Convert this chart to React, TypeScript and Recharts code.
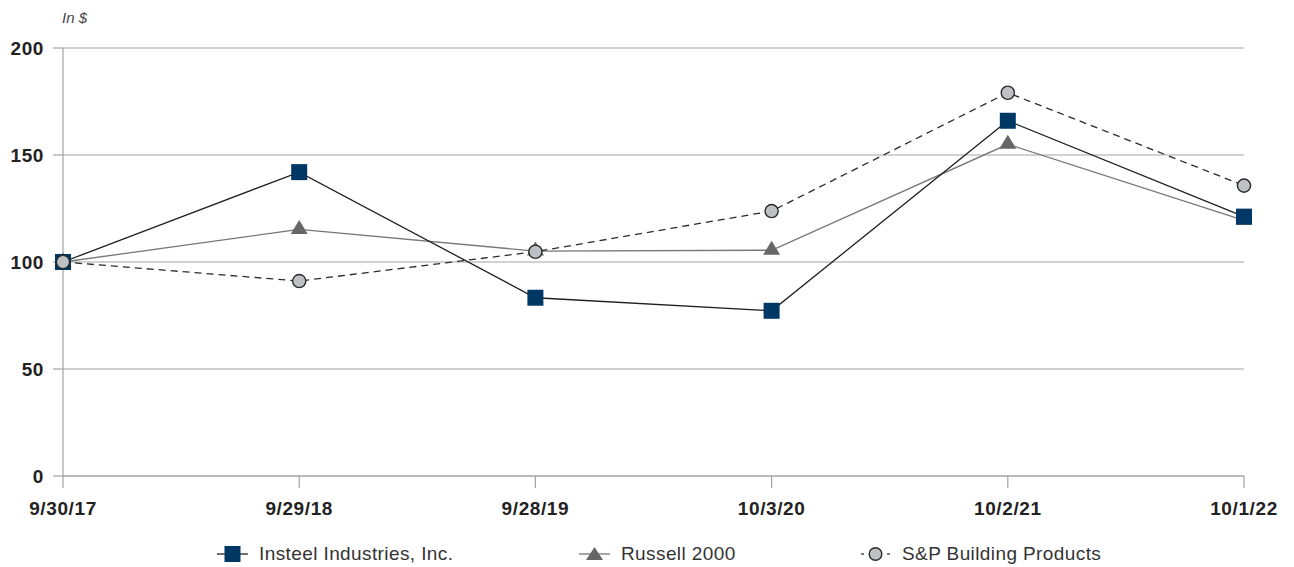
import React from "react";
import { LineChart, Line, XAxis, YAxis, CartesianGrid } from "recharts";

// Period end dates (x categories)
const dates = ["9/30/17", "9/29/18", "9/28/19", "10/3/20", "10/2/21", "10/1/22"];

// Value of $100 invested
const insteel = [100, 142, 83.3, 77.2, 166, 121.2];
const russell = [100, 115.2, 105.1, 105.5, 155, 119.5];
const spBuilding = [100, 91.1, 104.8, 123.8, 179.1, 135.7];

const yTicks = [0, 50, 100, 150, 200];

const FONT = '"Liberation Sans", Arial, Helvetica, sans-serif';
const GRID = "#a3a3a3";

const data = dates.map((date, i) => ({
  date,
  insteel: insteel[i],
  russell: russell[i],
  sp: spBuilding[i],
}));

// Custom markers
const SquareDot = ({ cx, cy, index }: any) => (
  <rect key={`sq-${index}`} x={cx - 8} y={cy - 8} width={16} height={16} fill="#003865" />
);

const TriangleDot = ({ cx, cy, index }: any) => (
  <polygon
    key={`tri-${index}`}
    points={`${cx},${cy - 9.5} ${cx + 8.5},${cy + 4.5} ${cx - 8.5},${cy + 4.5}`}
    fill="#666666"
  />
);

const CircleDot = ({ cx, cy, index }: any) => (
  <circle key={`ci-${index}`} cx={cx} cy={cy} r={6.6} fill="#bfc0c4" stroke="#2a2a2a" strokeWidth={1.4} />
);

const legendItems = [
  { name: "Insteel Industries, Inc.", left: 217, marker: "square" },
  { name: "Russell 2000", left: 579, marker: "triangle" },
  { name: "S&P Building Products", left: 860, marker: "circle" },
];

const LegendIcon = ({ marker }: { marker: string }) => (
  <svg width={31} height={18} style={{ display: "block" }}>
    {marker === "circle" ? (
      <>
        <line x1={1} y1={9} x2={4} y2={9} stroke="#333" strokeWidth={1.3} />
        <line x1={27} y1={9} x2={30} y2={9} stroke="#333" strokeWidth={1.3} />
        <circle cx={15.5} cy={9} r={6.3} fill="#bfc0c4" stroke="#2a2a2a" strokeWidth={1.4} />
      </>
    ) : (
      <line x1={0} y1={9} x2={31} y2={9} stroke={marker === "square" ? "#222" : "#777"} strokeWidth={1.3} />
    )}
    {marker === "square" && <rect x={7.5} y={1} width={16} height={16} fill="#003865" />}
    {marker === "triangle" && <polygon points="15.5,2 24,15 7,15" fill="#666666" />}
  </svg>
);

const tickStyle = { fill: "#222", fontSize: 19, fontWeight: "bold", fontFamily: FONT, letterSpacing: 0.6 };

export default function App() {
  return (
    <div
      style={{
        position: "absolute",
        left: 0,
        top: 0,
        width: 1294,
        height: 567,
        background: "#fff",
        fontFamily: FONT,
      }}
    >
      <div
        style={{
          position: "absolute",
          left: 62,
          top: 9,
          fontSize: 15,
          fontStyle: "italic",
          color: "#444",
        }}
      >
        In $
      </div>

      <LineChart width={1294} height={567} data={data} margin={{ top: 48, right: 50, left: 8, bottom: 51 }}>
        <CartesianGrid vertical={false} stroke={GRID} strokeWidth={1.2} />
        <XAxis
          dataKey="date"
          height={40}
          tickSize={12}
          tickMargin={14}
          axisLine={{ stroke: GRID, strokeWidth: 1.2 }}
          tickLine={{ stroke: GRID, strokeWidth: 1.2 }}
          tick={tickStyle}
          interval={0}
        />
        <YAxis
          domain={[0, 200]}
          ticks={yTicks}
          width={55}
          tickSize={10}
          tickMargin={9}
          axisLine={{ stroke: GRID, strokeWidth: 1.2 }}
          tickLine={{ stroke: GRID, strokeWidth: 1.2 }}
          tick={tickStyle}
          interval={0}
        />
        <Line
          dataKey="russell"
          stroke="#777777"
          strokeWidth={1.3}
          dot={TriangleDot}
          activeDot={false}
          isAnimationActive={false}
        />
        <Line
          dataKey="insteel"
          stroke="#1e1e1e"
          strokeWidth={1.3}
          dot={SquareDot}
          activeDot={false}
          isAnimationActive={false}
        />
        <Line
          dataKey="sp"
          stroke="#2a2a2a"
          strokeWidth={1.3}
          strokeDasharray="7 5"
          dot={CircleDot}
          activeDot={false}
          isAnimationActive={false}
        />
      </LineChart>

      {legendItems.map((item) => (
        <div
          key={item.name}
          style={{
            position: "absolute",
            left: item.left,
            top: 545,
            display: "flex",
            alignItems: "center",
            height: 18,
            fontSize: 19,
            letterSpacing: 0.4,
            color: "#333",
          }}
        >
          <LegendIcon marker={item.marker} />
          <span style={{ marginLeft: 11, whiteSpace: "nowrap" }}>{item.name}</span>
        </div>
      ))}
    </div>
  );
}
